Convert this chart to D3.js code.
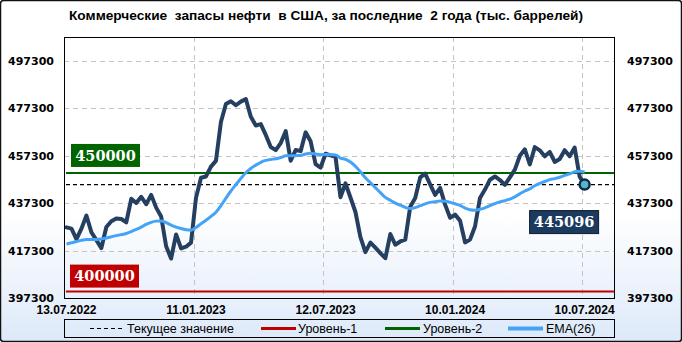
<!DOCTYPE html>
<html><head><meta charset="utf-8">
<script src="https://cdn.jsdelivr.net/npm/d3@7"></script>
<style>body{margin:0;background:#fff;} svg{display:block;}</style>
</head><body><svg id="c" width="682" height="342"></svg>
<script>
// ---------- data ----------
const title = "Коммерческие  запасы нефти  в США, за последние  2 года (тыс. баррелей)";
const tickLabels = ["13.07.2022", "11.01.2023", "12.07.2023", "10.01.2024", "10.07.2024"];
const tickWeeks = [0, 26, 52, 78, 104];
const yTicks = [397300, 417300, 437300, 457300, 477300, 497300];
const stocks = [
  427052, 426553, 422085, 426553, 432045, 425002, 421688, 418347, 427235, 429633,
  430773, 430583, 429212, 439099, 437358, 439951, 436825, 440756, 435394, 431662,
  419098, 413927, 424099, 418199, 418911, 420629, 439607, 448008, 448520, 452677,
  455111, 471447, 479038, 480229, 478532, 480063, 481180, 473694, 470004, 470577,
  466042, 460907, 459638, 462584, 467615, 455170, 459658, 459199, 467123, 463335,
  453726, 452239, 458097, 457408, 456782, 439788, 445630, 439663, 433542, 422935,
  416637, 420631, 418496, 416261, 414061, 424244, 419749, 421123, 421882, 435800,
  439430, 448130, 449721, 445137, 440763, 443707, 436638, 431109, 432444, 429914,
  420734, 421907, 427422, 439470, 442993, 447150, 448525, 447010, 444975, 448175,
  451393, 457258, 459985, 453567, 460887, 459540, 457028, 458840, 454656, 455855,
  459587, 457079, 460693, 448470, 445096
];
const ema26 = [
  420000, 420600, 421100, 421600, 422000, 422000, 422000, 422200, 422600, 423100,
  423600, 424000, 424500, 425300, 426200, 427200, 428300, 429200, 429700, 429800,
  429100, 428000, 427200, 426600, 426100, 425900, 427000, 428600, 430100, 431700,
  433400, 436200, 439400, 442400, 445100, 447700, 450100, 451900, 453300, 454500,
  455300, 455700, 456000, 456500, 457200, 457200, 457300, 457400, 458000, 458300,
  458000, 457700, 457800, 457700, 457600, 456300, 455700, 454600, 452800, 450500,
  448000, 445900, 443800, 441700, 439700, 438500, 437300, 436400, 435500, 435000,
  435400, 436200, 437000, 437600, 437900, 438200, 438100, 437600, 437000, 436300,
  435200, 434500, 434300, 434700, 435300, 436200, 437100, 437800, 438300, 439000,
  439900, 441200, 442400, 443300, 444600, 445600, 446400, 447200, 447600, 448200,
  449000, 449600, 450500, 450700, 450400
];
const level1 = 400000;
const level2 = 450000;
const legendLabels = ["Текущее значение", "Уровень-1", "Уровень-2", "EMA(26)"];

// ---------- drawing ----------
const svg = d3.select("#c");
const M = {left: 64, right: 615, top: 37, bottom: 298};
const x = d3.scaleLinear().domain([-0.5, 110.1]).range([M.left, M.right]);
const y = d3.scaleLinear().domain([397300, 507300]).range([M.bottom, M.top]);
const current = stocks[stocks.length - 1];
const last = stocks.length - 1;

const C = {navy: "#243f60", ema: "#45a3f7", green: "#006400", red: "#c00000", grid: "#c4c4c4"};

const defs = svg.append("defs");
const g = defs.append("linearGradient").attr("id", "bg").attr("x1", 0).attr("y1", 0).attr("x2", 0).attr("y2", 1);
g.append("stop").attr("offset", "0").attr("stop-color", "#ffffff");
g.append("stop").attr("offset", "0.62").attr("stop-color", "#ffffff");
g.append("stop").attr("offset", "1").attr("stop-color", "#dde9f9");
defs.append("clipPath").attr("id", "plot").append("rect")
  .attr("x", M.left).attr("y", M.top).attr("width", M.right - M.left).attr("height", M.bottom - M.top);

svg.append("rect").attr("x", 0.5).attr("y", 0.5).attr("width", 681).attr("height", 341)
  .attr("rx", 3).attr("fill", "url(#bg)").attr("stroke", "#111").attr("stroke-width", 1.5);

// title
svg.append("text").attr("x", 69).attr("y", 20).text(title)
  .attr("font-family", "Liberation Sans, Arial, sans-serif").attr("font-weight", "bold")
  .attr("font-size", 13).attr("textLength", 514).attr("lengthAdjust", "spacingAndGlyphs")
  .style("white-space", "pre").attr("fill", "#000");

// grid
const grid = svg.append("g").attr("stroke", C.grid).attr("stroke-dasharray", "5,4").attr("stroke-width", 1);
grid.selectAll(".h").data(yTicks.slice(1)).join("line")
  .attr("x1", M.left).attr("x2", M.right)
  .attr("y1", d => Math.round(y(d)) + 0.5).attr("y2", d => Math.round(y(d)) + 0.5);
grid.selectAll(".v").data(tickWeeks.slice(1)).join("line")
  .attr("x1", d => Math.round(x(d - 0.5)) + 0.5).attr("x2", d => Math.round(x(d - 0.5)) + 0.5)
  .attr("y1", M.top).attr("y2", M.bottom);

// y labels
const yl = svg.append("g").attr("font-family", "DejaVu Sans, Verdana, sans-serif")
  .attr("font-weight", "bold").attr("font-size", 11).attr("fill", "#000");
yl.selectAll(".l").data(yTicks).join("text").attr("x", 54).attr("y", d => y(d))
  .attr("dy", "0.36em").attr("text-anchor", "end").text(d => d);
yl.selectAll(".r").data(yTicks).join("text").attr("x", 627).attr("y", d => y(d))
  .attr("dy", "0.36em").attr("text-anchor", "start").text(d => d);

// x labels
svg.append("g").attr("font-family", "Liberation Sans, Arial, sans-serif")
  .attr("font-weight", "bold").attr("font-size", 12).attr("fill", "#000")
  .selectAll("text").data(tickWeeks).join("text")
  .attr("x", d => x(d)).attr("y", 314).attr("text-anchor", "middle")
  .text((d, i) => tickLabels[i]);

// plot content
const P = svg.append("g").attr("clip-path", "url(#plot)");
P.append("line").attr("x1", M.left + 2).attr("x2", M.right - 1)
  .attr("y1", y(level2)).attr("y2", y(level2)).attr("stroke", C.green).attr("stroke-width", 2);
P.append("line").attr("x1", M.left + 2).attr("x2", M.right - 1)
  .attr("y1", y(level1)).attr("y2", y(level1)).attr("stroke", C.red).attr("stroke-width", 2);
P.append("line").attr("x1", M.left + 2).attr("x2", M.right - 1)
  .attr("y1", y(current)).attr("y2", y(current)).attr("stroke", "#000")
  .attr("stroke-width", 1.2).attr("stroke-dasharray", "4,3");

const line = d3.line().x((d, i) => x(i)).y(d => y(d)).curve(d3.curveLinear);
P.append("path").datum(stocks).attr("d", line).attr("fill", "none")
  .attr("stroke", C.navy).attr("stroke-width", 4).attr("stroke-linejoin", "round").attr("stroke-linecap", "round");
P.append("path").datum(ema26).attr("d", d3.line().x((d, i) => x(i)).y(d => y(d)).curve(d3.curveMonotoneX))
  .attr("fill", "none").attr("stroke", C.ema).attr("stroke-width", 3).attr("stroke-linejoin", "round");

P.append("circle").attr("cx", x(last)).attr("cy", y(current)).attr("r", 5)
  .attr("fill", "#5ab4c8").attr("stroke", "#0e2a4c").attr("stroke-width", 2.5);

// value boxes
function box(xl, yt, fill, label) {
  svg.append("rect").attr("x", xl).attr("y", yt).attr("width", 69).attr("height", 23)
    .attr("fill", fill).attr("stroke", fill === "#1b3a5e" ? "#0b1b30" : "none").attr("stroke-width", 1);
  svg.append("text").attr("x", xl + 34.5).attr("y", yt + 11.5).attr("dy", "0.36em")
    .attr("text-anchor", "middle").attr("fill", "#fff")
    .attr("font-family", "DejaVu Serif, serif").attr("font-weight", "bold").attr("font-size", 14.5)
    .text(label);
}
box(M.left + 7, y(level2) - 29, C.green, level2);
box(M.left + 6, y(level1) - 27, C.red, level1);
box(x(last) - 55, y(current) + 26, "#1b3a5e", current);

// plot border
svg.append("rect").attr("x", M.left + 0.5).attr("y", M.top + 0.5)
  .attr("width", M.right - M.left - 1).attr("height", M.bottom - M.top)
  .attr("fill", "none").attr("stroke", "#000").attr("stroke-width", 1);

// legend
const L = svg.append("g");
L.append("rect").attr("x", 64.5).attr("y", 319.5).attr("width", 550).attr("height", 18)
  .attr("fill", "none").attr("stroke", "#000").attr("stroke-width", 1);
const ly = 328.5;
const items = [
  {x1: 90, x2: 122, tx: 127, stroke: "#000", w: 1.2, dash: "4,3"},
  {x1: 261, x2: 296, tx: 298, stroke: C.red, w: 3, dash: null},
  {x1: 385, x2: 420, tx: 423, stroke: C.green, w: 3, dash: null},
  {x1: 508, x2: 543, tx: 546, stroke: C.ema, w: 4, dash: null}
];
items.forEach((it, i) => {
  L.append("line").attr("x1", it.x1).attr("x2", it.x2).attr("y1", ly).attr("y2", ly)
    .attr("stroke", it.stroke).attr("stroke-width", it.w).attr("stroke-dasharray", it.dash);
  L.append("text").attr("x", it.tx).attr("y", ly).attr("dy", "0.36em")
    .attr("font-family", "Liberation Sans, Arial, sans-serif").attr("font-size", 12.5)
    .attr("fill", "#000").text(legendLabels[i]);
});
</script></body></html>
